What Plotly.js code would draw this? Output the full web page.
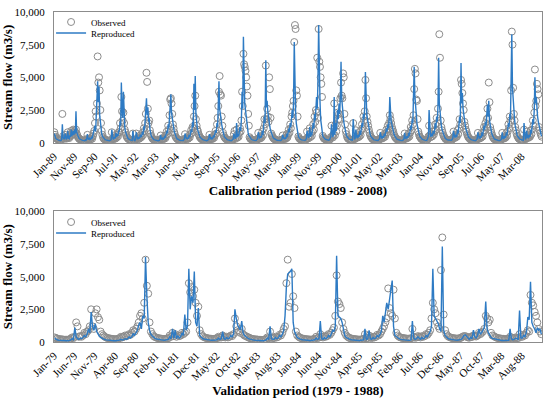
<!DOCTYPE html>
<html><head><meta charset="utf-8">
<script src="https://cdn.plot.ly/plotly-3.0.1.min.js"></script>
<style>body{margin:0;background:#fff}#c{width:550px;height:398px}</style>
</head><body><div id="c"></div>
<script>
// Dekadal (10-day) values, 36 per year
const calStartYear = 1989;
const valStartYear = 1979;

const calSim = [
700,450,350, 280,240,210, 190,180,170, 160,170,240, 1400,400,300, 260,700,300, 250,350,900, 350,300,500, 450,1000,500, 700,900,600, 1000,700,2400, 800,600,450,
380,300,260, 230,210,190, 180,170,160, 150,220,190, 300,650,280, 260,330,240, 280,450,320, 550,750,950, 1300,850,1900, 2600,4700,3100, 4300,2100,1500, 950,700,500,
420,320,270, 230,210,190, 180,170,160, 150,160,170, 220,1000,320, 260,320,420, 320,750,420, 650,520,950, 850,1600,1300, 4600,2600,1900, 3900,1600,1200, 850,620,460,
400,310,260, 230,210,190, 180,170,900, 210,170,160, 260,800,310, 260,420,320, 360,620,420, 520,820,620, 1250,950,1700, 2600,3400,2100, 2700,1600,1900, 1050,720,520,
420,320,270, 230,210,190, 180,170,160, 150,160,180, 280,600,300, 260,350,280, 330,520,380, 600,900,700, 1400,1100,2000, 3200,3700,2300, 2000,1500,1200, 850,620,460,
400,310,260, 230,210,190, 180,170,160, 160,170,200, 300,700,320, 280,380,300, 350,600,420, 700,1000,800, 1600,1200,4500, 2500,5100,2200, 1300,1100,900, 700,550,420,
380,300,260, 230,210,190, 180,170,160, 150,170,190, 260,650,300, 270,360,290, 340,550,400, 650,950,750, 1500,1200,2500, 4700,2600,2000, 1800,1400,1100, 800,600,450,
400,310,260, 230,210,190, 180,170,160, 150,170,200, 280,700,330, 300,420,1500, 400,650,480, 800,1200,900, 1800,3900,2600, 8100,4200,3000, 2500,1900,1400, 1000,750,550,
450,340,280, 240,220,200, 190,180,170, 160,180,210, 300,800,350, 320,500,380, 450,900,600, 1200,2000,1500, 6300,2700,3200, 2400,1800,1500, 1200,950,750, 600,480,380,
330,280,240, 220,200,185, 175,165,155, 150,165,190, 260,600,300, 280,380,300, 350,700,420, 650,1100,800, 1500,1200,2200, 2500,1900,3000, 7700,3500,2400, 1500,1000,700,
500,380,300, 260,230,210, 195,185,175, 165,180,220, 320,900,400, 350,500,1200, 450,800,550, 900,1500,1100, 2200,1700,3000, 3500,2600,4500, 9000,5000,3200, 1800,1200,800,
550,420,340, 290,260,240, 220,210,200, 190,220,300, 450,1400,500, 420,700,3500, 600,1500,900, 1400,2500,1800, 3000,2200,3500, 6200,3400,2600, 2000,1600,1300, 900,700,550,
450,360,300, 260,240,220, 210,200,190, 1800,300,260, 350,1000,450, 400,600,450, 500,900,600, 1000,1500,1200, 2200,1800,2800, 5400,3000,2200, 1800,1400,1100, 800,620,480,
400,320,270, 240,220,200, 190,180,170, 165,180,220, 300,800,350, 320,500,380, 420,700,480, 700,1100,850, 1400,1100,1800, 3500,2000,1600, 1400,1100,900, 700,550,430,
380,300,260, 230,210,190, 180,170,160, 155,175,210, 300,750,350, 320,480,380, 420,750,500, 800,1300,1000, 1800,1500,3000, 5800,3600,2600, 2000,1500,1200, 900,700,520,
430,340,280, 250,230,210, 190,180,170, 160,200,300, 500,2500,600, 450,700,500, 550,900,650, 900,1500,1100, 2000,1600,2800, 6500,3000,2200, 1700,1300,1000, 800,620,480,
400,320,270, 240,220,200, 190,180,170, 165,190,240, 350,900,420, 380,600,450, 500,1000,700, 1200,2000,1500, 6100,3000,3800, 2600,2000,1700, 1400,1100,900, 700,550,430,
380,300,260, 230,210,190, 180,170,160, 155,175,210, 300,800,350, 320,500,380, 420,800,500, 800,1300,1000, 1600,1300,2200, 2900,2000,3200, 1700,1300,1000, 800,600,450,
380,300,260, 230,210,190, 180,170,160, 155,175,210, 300,800,350, 320,500,380, 420,800,550, 900,1500,1200, 2200,1800,4000, 8300,4200,3000, 2400,1800,1300, 1000,750,550,
450,350,290, 260,240,220, 200,190,180, 1500,300,250, 350,900,420, 380,600,450, 500,1000,700, 1100,1800,1400, 2500,5000,3000, 3500,2500,2000, 1600,1300,1000, 800,650,500
];

const calObs = [
800,600,450, 350,300,250, 220,200,180, 170,180,260, 2200,500,350, 300,600,350, 300,400,800, 400,350,600, 500,900,600, 800,1000,700, 900,800,1000, 700,550,420,
350,280,240, 210,190,170, 160,150,140, 130,200,170, 280,600,250, 230,300,220, 260,400,300, 500,700,900, 1500,2400,2000, 3000,6600,4600, 5000,4000,2500, 1500,900,600,
400,300,250, 220,200,180, 170,160,150, 140,150,160, 200,800,300, 240,300,380, 300,600,380, 600,480,800, 800,1500,1100, 3500,2400,1700, 2300,1500,1000, 800,580,430,
380,300,250, 220,200,180, 170,160,700, 200,160,150, 240,700,300, 240,400,300, 330,560,400, 480,750,580, 1100,900,1500, 2200,5350,4650, 2600,1500,1700, 950,680,500,
400,300,250, 220,200,180, 170,160,150, 140,150,170, 260,550,280, 240,330,260, 310,480,350, 550,850,650, 1300,1000,2100, 3300,3400,3000, 2200,1400,1100, 800,600,440,
380,300,250, 220,200,180, 170,160,150, 150,160,190, 280,650,300, 260,350,280, 330,550,400, 650,950,750, 1200,1100,2000, 2800,3600,1800, 1300,1000,850, 650,520,400,
360,280,240, 220,200,180, 170,160,150, 140,160,180, 240,600,280, 250,340,270, 320,500,380, 600,900,700, 1400,1900,2800, 3900,5100,3700, 3600,2000,1300, 750,560,420,
380,290,250, 220,200,180, 170,160,150, 140,160,190, 260,650,900, 280,400,1000, 380,600,450, 750,1100,850, 1700,3900,2800, 6800,6000,5800, 5500,5000,4300, 3600,2200,1300,
420,320,260, 230,210,190, 180,170,160, 150,170,200, 280,750,330, 300,470,360, 420,850,560, 1100,1800,1400, 5900,1800,2600, 2000,1600,5000, 4100,1900,700, 560,450,360,
310,260,220, 200,185,170, 160,150,140, 140,150,180, 240,550,280, 260,350,280, 330,650,400, 600,1000,750, 1400,1100,2000, 2300,2800,3200, 7700,9000,8700, 4000,3600,2000,
470,360,290, 250,220,200, 185,175,165, 155,170,210, 300,850,380, 330,480,1100, 430,750,520, 850,1400,1000, 2000,1600,2500, 2300,6500,1900, 8700,6200,5800, 5000,4500,3500,
520,400,320, 280,250,230, 210,200,190, 180,210,280, 420,1300,470, 400,650,3000, 560,1400,850, 1300,2300,1800, 2200,1800,3400, 4600,3600,3400, 5300,5000,2200, 1400,900,650,
430,340,280, 250,230,210, 200,190,180, 1500,280,250, 330,950,430, 380,570,430, 480,850,570, 950,1400,1100, 2000,1700,2400, 4800,3400,2000, 1600,1300,1000, 750,580,450,
380,300,250, 220,200,190, 180,170,160, 155,170,210, 280,750,330, 300,470,360, 400,650,450, 650,1000,800, 1300,1000,1500, 2100,1800,1500, 1200,1000,850, 650,520,400,
360,280,240, 210,190,180, 170,160,150, 145,165,200, 280,700,330, 300,450,360, 400,700,470, 750,1200,950, 1700,1400,2100, 4100,5650,5300, 3300,3200,1800, 850,650,480,
400,320,260, 230,210,190, 180,170,160, 150,190,280, 470,1300,560, 420,650,470, 520,850,620, 850,1400,1000, 1900,1500,2600, 3900,8300,6500, 1700,1200,950, 750,580,450,
380,300,250, 220,200,190, 180,170,160, 155,180,230, 330,850,400, 360,570,430, 470,950,650, 1100,1800,1400, 4800,4500,3800, 3000,2500,1600, 1300,1000,850, 650,520,400,
360,280,240, 210,190,180, 170,160,150, 145,165,200, 280,750,330, 300,470,360, 400,750,470, 750,1200,950, 1500,1200,1800, 2600,1900,4600, 3100,1200,950, 750,570,420,
360,280,240, 210,190,180, 170,160,150, 145,165,200, 280,750,330, 300,470,360, 400,750,520, 850,1400,1100, 2000,1700,4000, 8500,7500,4200, 2200,1700,1200, 950,700,520,
420,330,270, 240,220,200, 190,180,170, 1000,280,240, 330,850,400, 360,570,430, 470,950,650, 1000,1700,1300, 2300,5600,2800, 3200,4500,4100, 3700,1200,950, 750,600,460
];

const valSim = [
300,200,150, 130,120,110, 100,100,95, 90,100,120, 150,250,180, 1100,400,250, 200,300,250, 350,500,400, 600,1000,700, 2300,1200,900, 1400,800,600, 450,350,280,
230,190,160, 140,130,120, 110,105,100, 95,100,110, 140,200,160, 180,250,200, 250,400,300, 400,650,500, 700,900,1300, 1500,1000,2000, 1800,6500,3500, 1500,900,600,
450,350,280, 230,200,180, 160,150,140, 130,140,160, 200,400,250, 1000,300,900, 250,500,300, 400,700,500, 2100,900,1200, 5600,2500,3500, 3000,5400,1500, 1200,2600,500,
350,280,230, 200,180,160, 150,140,130, 125,130,150, 180,300,200, 250,800,250, 200,350,250, 300,500,400, 600,2500,1800, 1300,1100,900, 1600,700,500, 400,300,250,
220,180,160, 140,130,120, 110,105,100, 95,100,120, 150,300,180, 1200,250,200, 200,350,250, 300,500,400, 600,900,2000, 4200,5200,5300, 5400,5600,1500, 800,500,350,
280,220,190, 170,150,140, 130,125,120, 115,120,140, 170,300,200, 250,1600,250, 200,350,250, 300,500,400, 600,900,800, 1200,6600,2000, 1900,1800,1500, 900,500,350,
280,220,190, 170,150,140, 130,125,120, 115,120,140, 170,1000,200, 250,900,250, 200,350,250, 300,500,400, 600,800,2000, 1500,2200,3000, 2500,3500,4000, 4700,1200,500,
400,300,250, 200,180,160, 150,140,130, 125,130,150, 1600,300,200, 250,400,250, 200,350,250, 300,500,400, 600,800,1200, 5600,2000,1800, 1600,1400,1000, 800,7300,900,
500,350,280, 230,200,180, 160,150,140, 130,140,160, 200,300,500, 550,400,250, 200,350,250, 900,400,300, 500,1000,600, 700,900,1100, 3100,1000,700, 500,350,280,
250,200,170, 150,140,130, 120,115,110, 105,110,130, 1000,250,180, 200,300,250, 200,2400,300, 300,500,400, 800,1900,1700, 4600,1500,1200, 1000,700,1100, 900,1000,600
];

const valObs = [
350,300,260, 230,210,200, 190,180,170, 170,180,200, 250,350,300, 400,1500,1200, 400,450,400, 500,700,600, 800,900,1200, 2500,1200,1000, 2200,2500,1900, 1700,800,600,
500,400,350, 300,280,260, 240,230,220, 210,220,250, 300,400,350, 400,500,450, 500,600,550, 700,900,800, 1000,1200,1500, 2000,2200,1800, 3000,6300,4300, 3700,1500,800,
600,450,380, 330,300,280, 260,250,240, 230,240,260, 300,500,400, 700,450,600, 400,500,450, 500,700,600, 700,800,1500, 4500,3800,4200, 3500,4000,3000, 2000,2700,900,
600,450,380, 330,300,280, 260,250,240, 230,240,260, 300,400,350, 350,500,400, 350,400,350, 400,500,450, 600,1800,1200, 900,800,700, 1000,600,500, 450,400,350,
300,260,230, 210,200,190, 180,170,160, 160,170,190, 220,350,280, 800,350,300, 300,400,350, 400,550,500, 700,1000,1200, 4500,6300,2700, 3000,5200,3500, 2600,800,500,
400,330,290, 260,240,220, 210,200,190, 180,190,210, 250,400,300, 350,600,400, 350,450,400, 450,600,550, 700,900,1100, 2000,5100,3100, 2900,2600,1500, 1000,700,500,
400,330,290, 260,240,220, 210,200,190, 180,190,210, 250,600,300, 300,500,350, 300,400,350, 400,550,500, 600,800,1000, 1200,1500,1800, 4100,2600,2200, 2000,4000,1800,
700,500,400, 350,320,300, 280,270,260, 250,260,280, 1000,400,330, 350,450,400, 350,450,400, 450,600,550, 700,900,1800, 3000,2500,2200, 1500,1200,1000, 5500,8000,2100,
900,600,450, 380,340,310, 290,280,270, 260,270,290, 330,400,450, 450,400,350, 330,400,380, 500,450,420, 500,700,600, 700,800,1000, 2000,1800,1500, 1700,700,500,
450,380,330, 300,280,260, 250,240,230, 220,230,250, 400,350,300, 300,350,300, 300,600,400, 400,550,500, 700,900,800, 3600,3000,2800, 2300,2000,1500, 1000,800,600
];

const yTickVals = [0, 2500, 5000, 7500, 10000];
const calTitle = 'Calibration period (1989 - 2008)';
const valTitle = 'Validation period (1979 - 1988)';
const yTitle = 'Stream flow (m3/s)';

function dekadDates(startYear, n) {
  const days = [6, 16, 26];
  const out = [];
  for (let i = 0; i < n; i++) {
    const y = startYear + Math.floor(i / 36);
    const k = i % 36;
    const m = Math.floor(k / 3) + 1;
    out.push(y + '-' + String(m).padStart(2, '0') + '-' + String(days[k % 3]).padStart(2, '0'));
  }
  return out;
}

const obsColor = '#8c8c8c';
const simColor = '#2E7BC4';
const FONT = 'Liberation Serif, Times New Roman, serif';

const calX = dekadDates(calStartYear, calSim.length);
const valX = dekadDates(valStartYear, valSim.length);

const obsMarker = {symbol: 'circle-open', size: 7, color: obsColor, line: {width: 1, color: obsColor}};
const traces = [
  {x: calX, y: calObs, type: 'scatter', mode: 'markers', name: 'Observed', xaxis: 'x', yaxis: 'y', legend: 'legend', marker: obsMarker},
  {x: calX, y: calSim, type: 'scatter', mode: 'lines', name: 'Reproduced', xaxis: 'x', yaxis: 'y', legend: 'legend2',
   line: {color: simColor, width: 1.4}},
  {x: valX, y: valObs, type: 'scatter', mode: 'markers', name: 'Observed', xaxis: 'x2', yaxis: 'y2', legend: 'legend3', marker: obsMarker},
  {x: valX, y: valSim, type: 'scatter', mode: 'lines', name: 'Reproduced', xaxis: 'x2', yaxis: 'y2', legend: 'legend4',
   line: {color: simColor, width: 1.4}}
];

const axisLine = {showline: true, mirror: true, linecolor: '#8c8c8c', linewidth: 1, showgrid: false, zeroline: false};

function xAx(anchor, range, tick0, dtick, title) {
  return Object.assign({}, axisLine, {
    type: 'date', anchor: anchor, range: range, tick0: tick0, dtick: dtick, tickformat: '%b-%y',
    tickangle: -45, ticks: '', ticklabelstandoff: 2, tickfont: {size: 11, family: FONT, color: '#000'},
    title: {text: '<b>' + title + '</b>', font: {size: 13, family: FONT, color: '#000'}, standoff: 0}
  });
}
function yAx(anchor, domain) {
  return Object.assign({}, axisLine, {
    anchor: anchor, domain: domain, range: [0, 10000], tickvals: yTickVals, tickformat: ',d',
    ticks: '', ticklabelstandoff: 6, tickfont: {size: 11, family: FONT, color: '#000'},
    title: {text: '<b>' + yTitle + '</b>', font: {size: 13, family: FONT, color: '#000'}, standoff: 0}
  });
}
function leg(y) {
  return {x: -0.006, xanchor: 'left', y: y, yanchor: 'middle', bgcolor: 'rgba(0,0,0,0)', borderwidth: 0,
          itemwidth: 30, font: {size: 9, family: FONT, color: '#000'}};
}

const layout = {
  width: 550, height: 398,
  margin: {l: 54, r: 8, t: 11, b: 56},
  paper_bgcolor: '#fff', plot_bgcolor: '#fff',
  font: {family: FONT, color: '#000'},
  xaxis: xAx('y', ['1989-01-01', '2008-12-31'], '1989-01-01', 'M10', calTitle),
  yaxis: yAx('x', [0.604, 1]),
  xaxis2: xAx('y2', ['1979-01-01', '1988-12-31'], '1979-01-01', 'M5', valTitle),
  yaxis2: yAx('x2', [0, 0.396]),
  legend: leg(0.9668), legend2: leg(0.9335), legend3: leg(0.3625), legend4: leg(0.3293),
  showlegend: true
};

Plotly.newPlot('c', traces, layout, {displayModeBar: false, staticPlot: true});
</script>
</body></html>
